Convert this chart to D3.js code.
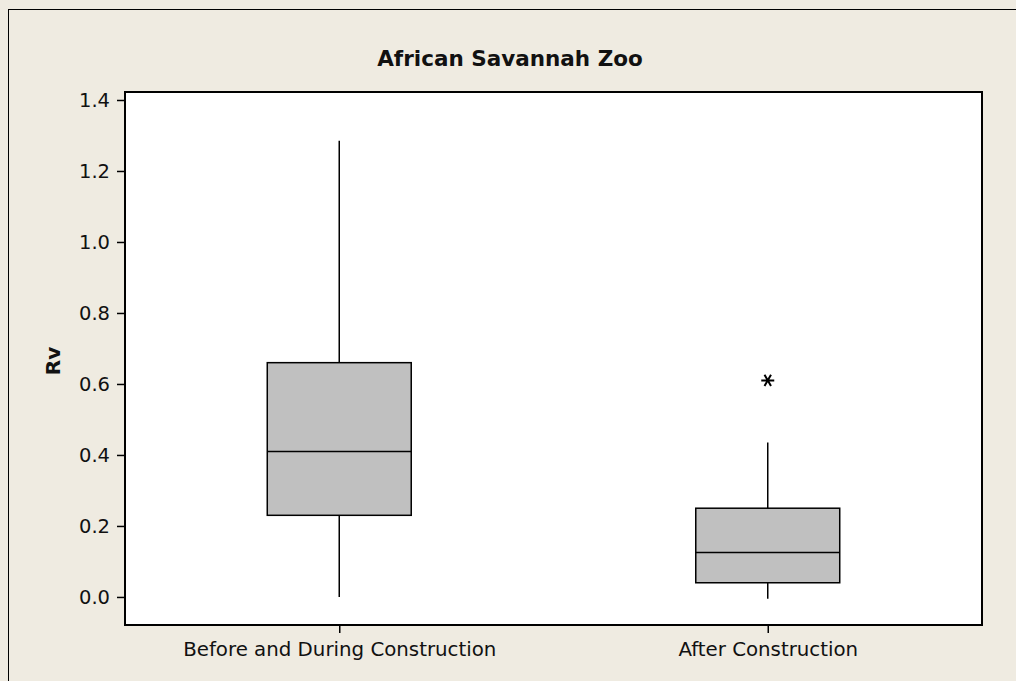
<!DOCTYPE html>
<html>
<head>
<meta charset="utf-8">
<script src="https://cdn.jsdelivr.net/npm/d3@7"></script>
<style>
  html, body { margin: 0; padding: 0; background: #efebe1; }
  svg { display: block; }
  text { font-family: Tahoma, "DejaVu Sans", sans-serif; fill: #111; }
</style>
</head>
<body>
<script>
// Minitab style boxplot

var categories = ["Before and During Construction", "After Construction"];
var whiskerLow = [0.0, -0.005];
var q1 = [0.23, 0.04];
var median = [0.41, 0.125];
var q3 = [0.66, 0.25];
var whiskerHigh = [1.285, 0.435];
var outliers = [[], [0.61]];
var yTicks = [0.0, 0.2, 0.4, 0.6, 0.8, 1.0, 1.2, 1.4];

var width = 1016,
    height = 681;

var plot = {left: 125, right: 982, top: 92, bottom: 625};

var svg = d3.select("body").append("svg")
    .attr("width", width)
    .attr("height", height);

// outer frame (only left and top edges show)
svg.append("rect")
    .attr("x", 8.5).attr("y", 9.5)
    .attr("width", 1100).attr("height", 800)
    .attr("fill", "#efebe1")
    .attr("stroke", "#000")
    .attr("stroke-width", 1);

var y = d3.scaleLinear()
    .domain([-0.079, 1.4225])
    .range([plot.bottom, plot.top]);

var x = d3.scalePoint()
    .domain(categories)
    .range([plot.left, plot.right])
    .padding(0.5);

var boxW = x.step() * 0.336;

svg.append("rect")
    .attr("x", plot.left).attr("y", plot.top)
    .attr("width", plot.right - plot.left)
    .attr("height", plot.bottom - plot.top)
    .attr("fill", "#fff");

// y axis
var yAxis = d3.axisLeft(y)
    .tickValues(yTicks)
    .tickFormat(d3.format(".1f"))
    .tickSize(8)
    .tickPadding(7);

var gy = svg.append("g")
    .attr("transform", "translate(" + plot.left + ",0)")
    .call(yAxis);
gy.select(".domain").remove();
gy.selectAll(".tick line").attr("stroke", "#000").attr("stroke-width", 1.5);
gy.selectAll(".tick text")
    .attr("font-size", 19.5)
    .attr("font-family", "Tahoma, 'DejaVu Sans', sans-serif")
    .attr("fill", "#111");

// x axis
var xAxis = d3.axisBottom(x)
    .tickSize(8)
    .tickPadding(9);

var gx = svg.append("g")
    .attr("transform", "translate(0," + plot.bottom + ")")
    .call(xAxis);
gx.select(".domain").remove();
gx.selectAll(".tick line").attr("stroke", "#000").attr("stroke-width", 1.5);
gx.selectAll(".tick text")
    .attr("font-size", 19.8)
    .attr("font-family", "Tahoma, 'DejaVu Sans', sans-serif")
    .attr("fill", "#111");

var groups = svg.selectAll(".box")
    .data(categories)
    .enter().append("g")
    .attr("class", "box");

// whiskers
groups.append("line")
    .attr("x1", d => x(d)).attr("x2", d => x(d))
    .attr("y1", (d, i) => y(whiskerHigh[i]))
    .attr("y2", (d, i) => y(q3[i]))
    .attr("stroke", "#000").attr("stroke-width", 1.5);
groups.append("line")
    .attr("x1", d => x(d)).attr("x2", d => x(d))
    .attr("y1", (d, i) => y(q1[i]))
    .attr("y2", (d, i) => y(whiskerLow[i]))
    .attr("stroke", "#000").attr("stroke-width", 1.5);

groups.append("rect")
    .attr("x", d => x(d) - boxW / 2)
    .attr("width", boxW)
    .attr("y", (d, i) => y(q3[i]))
    .attr("height", (d, i) => y(q1[i]) - y(q3[i]))
    .attr("fill", "#c0c0c0")
    .attr("stroke", "#000")
    .attr("stroke-width", 1.5);

groups.append("line")
    .attr("x1", d => x(d) - boxW / 2).attr("x2", d => x(d) + boxW / 2)
    .attr("y1", (d, i) => y(median[i]))
    .attr("y2", (d, i) => y(median[i]))
    .attr("stroke", "#000").attr("stroke-width", 1.5);

// outliers as asterisks
var r = 6.5;
var star = "M" + (-r) + ",0L" + r + ",0" +
    "M" + (-r / 2) + "," + (-r * 0.87) + "L" + (r / 2) + "," + (r * 0.87) +
    "M" + (r / 2) + "," + (-r * 0.87) + "L" + (-r / 2) + "," + (r * 0.87);

categories.forEach(function(c, i) {
    outliers[i].forEach(function(v) {
        svg.append("path")
            .attr("d", star)
            .attr("transform", "translate(" + x(c) + "," + y(v) + ")")
            .attr("stroke", "#000")
            .attr("stroke-width", 2)
            .attr("fill", "none");
    });
});

// plot border
svg.append("rect")
    .attr("x", plot.left).attr("y", plot.top)
    .attr("width", plot.right - plot.left)
    .attr("height", plot.bottom - plot.top)
    .attr("fill", "none")
    .attr("stroke", "#000")
    .attr("stroke-width", 2);

svg.append("text")
    .attr("x", 510).attr("y", 66)
    .attr("text-anchor", "middle")
    .attr("font-size", 21.5)
    .attr("font-weight", "bold")
    .text("African Savannah Zoo");

svg.append("text")
    .attr("transform", "translate(60,361) rotate(-90)")
    .attr("text-anchor", "middle")
    .attr("font-size", 20)
    .attr("font-weight", "bold")
    .text("Rv");
</script>
</body>
</html>
